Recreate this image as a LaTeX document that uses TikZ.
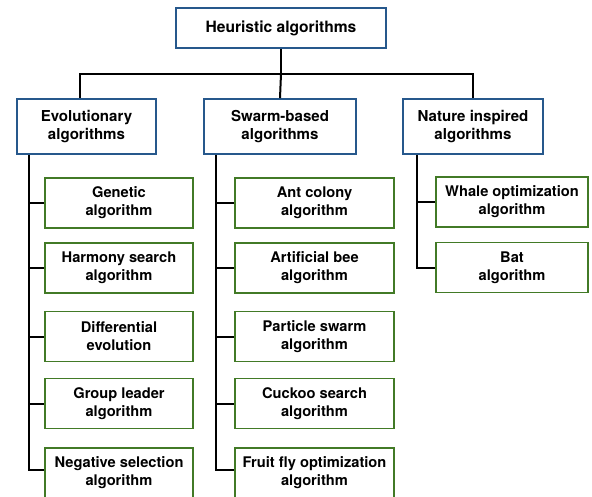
\documentclass[tikz,border=0pt]{standalone}
\usepackage{fontspec}
\setmainfont{TeX Gyre Heros}
\definecolor{boxblue}{RGB}{38,88,140}
\definecolor{boxgreen}{RGB}{66,122,38}

\begin{document}
\begin{tikzpicture}[x=0.75pt,y=-0.75pt,
    font=\fontsize{11}{13.5}\selectfont\bfseries]

        \useasboundingbox (0,0) rectangle (592,496);

        \begin{scope}[every node/.style={draw=boxblue, fill=white, line width=1.4pt,
            align=center, inner sep=0pt, minimum height=41.25pt,
            font=\fontsize{11.3}{13.5}\selectfont\bfseries}]
          \node[minimum width=157.5pt, minimum height=30pt,
                font=\fontsize{11.7}{14}\selectfont\bfseries] (heur) at (281,28) {Heuristic algorithms};
          \node[minimum width=104.25pt] (evo)  at (86.5,126.5) {Evolutionary\\algorithms};
          \node[minimum width=114pt]    (swa)  at (280,126.5)  {Swarm-based\\algorithms};
          \node[minimum width=105pt]    (nat)  at (473,126.5)  {Nature inspired\\algorithms};
        \end{scope}

        \begin{scope}[every node/.style={draw=boxgreen, fill=white, line width=1.4pt,
            align=center, inner sep=0pt, minimum height=37.5pt}]
          \node[minimum width=111pt] (evo1) at (119,203)   {Genetic\\algorithm};
          \node[minimum width=111pt] (evo2) at (119,268)   {Harmony search\\algorithm};
          \node[minimum width=111pt] (evo3) at (119,336.5) {Differential\\evolution};
          \node[minimum width=111pt] (evo4) at (119,403.5) {Group leader\\algorithm};
          \node[minimum width=111pt] (evo5) at (119,473)   {Negative selection\\algorithm};

          \node[minimum width=119.25pt] (swa1) at (314.5,203)   {Ant colony\\algorithm};
          \node[minimum width=119.25pt] (swa2) at (314.5,268)   {Artificial bee\\algorithm};
          \node[minimum width=119.25pt] (swa3) at (314.5,336.5) {Particle swarm\\algorithm};
          \node[minimum width=119.25pt] (swa4) at (314.5,403.5) {Cuckoo search\\algorithm};
          \node[minimum width=119.25pt] (swa5) at (314.5,473)   {Fruit fly optimization\\algorithm};

          \node[minimum width=114pt] (nat1) at (512,202)   {Whale optimization\\algorithm};
          \node[minimum width=114pt] (nat2) at (512,267.5) {Bat\\algorithm};
        \end{scope}

        \begin{scope}[line width=1.5pt]
          % top bus
          \coordinate (bus) at (281,74);
          \draw (heur) -- (bus);
          \draw ([xshift=-5.25pt]evo.north) |- (bus) -| (nat.north);
          \draw (bus) -- (swa.north);

          % stems
          \coordinate (evostem) at ([xshift=9.75pt]evo.south west);
          \coordinate (swastem) at ([xshift=9.75pt]swa.south west);
          \coordinate (natstem) at ([xshift=11.25pt]nat.south west);
          \draw (evostem) |- ([yshift=2pt]evo5.west);
          \draw (swastem) |- ([yshift=2pt]swa5.west);
          \draw (natstem) |- (nat2.west);
          \foreach \i in {1,...,4} {
            \draw (evo\i.west -| evostem) -- (evo\i.west);
            \draw (swa\i.west -| swastem) -- (swa\i.west);
          }
          \draw (nat1.west -| natstem) -- (nat1.west);
        \end{scope}

      \end{tikzpicture}
\end{document}
